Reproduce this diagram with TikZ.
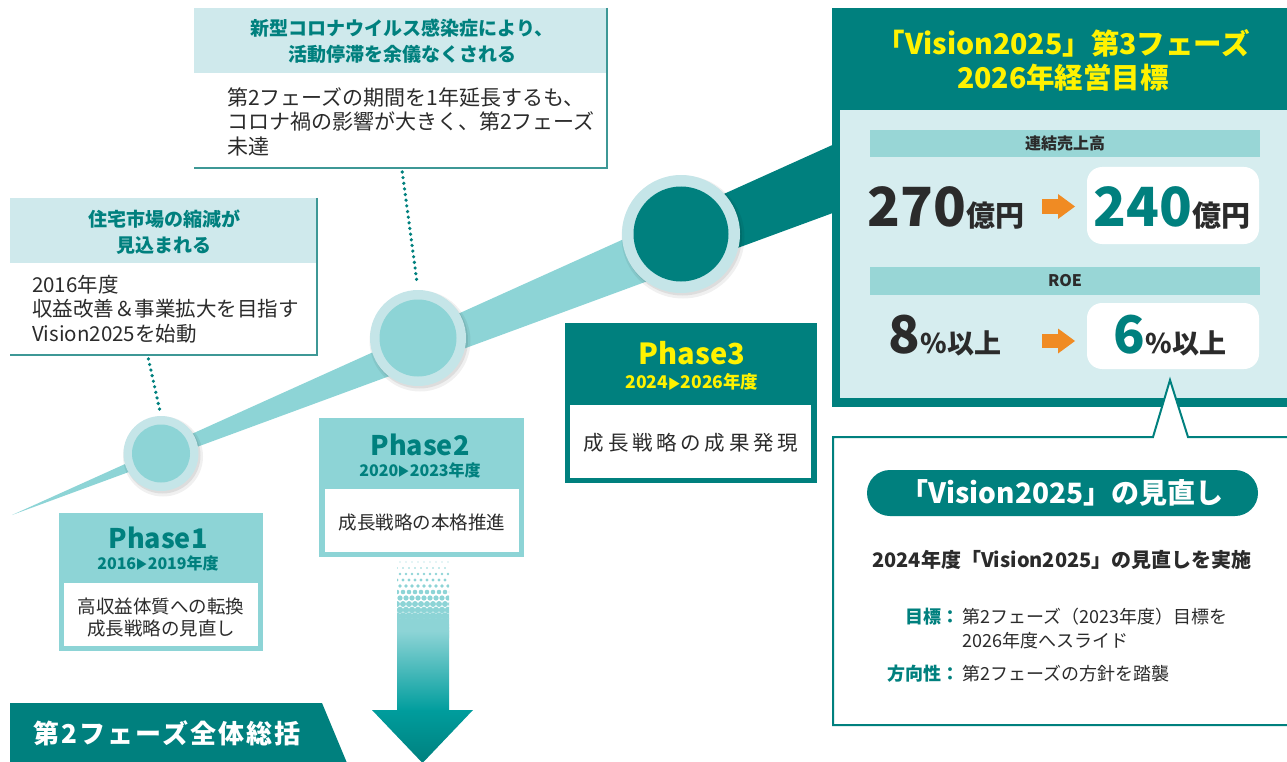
\documentclass[tikz,border=0pt]{standalone}
\usepackage{fontspec}
\usepackage{graphicx}
\setmainfont{Noto Sans CJK JP}
\newfontfamily\dejavu{DejaVu Sans}
\definecolor{teal1}{HTML}{00807E}
\definecolor{lteal}{HTML}{8DD4D6}
\definecolor{pale}{HTML}{CFE9EC}
\definecolor{ringc}{HTML}{C5E5E8}
\definecolor{panel}{HTML}{D6EDEF}
\definecolor{barc}{HTML}{98D6D6}
\definecolor{txt}{HTML}{2B2B2B}
\definecolor{yel}{HTML}{FFF200}
\definecolor{org}{HTML}{F08B23}
\definecolor{edgec}{HTML}{3E9896}
\definecolor{arrowc}{HTML}{009D9D}
\newcommand\tri{\hspace{0.06em}\raisebox{0.02em}{\dejavu\scalebox{0.78}[0.95]{▶}}\hspace{0.06em}}
\newcommand\fs[2]{\fontsize{#1}{#2}\selectfont}
\tikzset{
  hdr/.style={font={\bfseries\fs{19}{26}}, text=teal1, align=center, inner sep=0},
  body/.style={font={\fs{21}{24.5}}, text=txt, align=left, inner sep=0, anchor=west},
  ptitle/.style={font={\bfseries\fs{27}{27}}, text=teal1, inner sep=0},
  pdate/.style={font={\bfseries\fs{16}{16}}, text=teal1, inner sep=0},
  pbody/.style={font={\fs{18.5}{22}}, text=txt, align=center, inner sep=0},
  ringnode/.style={circle, fill=ringc, inner sep=0},
  corenode/.style={circle, inner sep=0},
  dotline/.style={teal1, line width=3.6pt, line cap=round, dash pattern=on 0pt off 5.7pt},
  bartext/.style={font={\bfseries\fs{16}{16}}, text=txt, inner sep=0},
  bigval/.style={inner sep=0, anchor=base},
  oarrow/.style={fill=org},
  smalltxt/.style={font={\fs{18}{18}}, text=txt, inner sep=0},
  smallkey/.style={font={\bfseries\fs{18}{18}}, text=teal1, inner sep=0, anchor=base east},
}
\begin{document}
\begin{tikzpicture}[x=1pt,y=-1pt]
\useasboundingbox (0,0) rectangle (1287,762);
% ---- band ----
\fill[lteal] (12,515) -- (681,213.3) -- (681,268.8) -- cycle;
\fill[teal1] (681,213.3) -- (845,139.3) -- (845,208.5) -- (681,268.8) -- cycle;
% ---- circles ----
\foreach \cx/\cy/\R in {161/453.5/37.5, 418/338/48, 681/234/59}{
  \fill[black, opacity=0.06] (\cx+2,\cy+3) circle ({\R+2.5pt});
  \fill[black, opacity=0.08] (\cx+1.5,\cy+2) circle ({\R+0.5pt});
}
\node[ringnode, minimum size=75pt] (c1) at (161,453.5) {};
\node[corenode, fill=lteal, minimum size=58pt] (c1i) at (c1) {};
\node[ringnode, minimum size=96pt] (c2) at (418,338) {};
\node[corenode, fill=lteal, minimum size=77pt] (c2i) at (c2) {};
\node[ringnode, minimum size=118pt] (c3) at (681,234) {};
\node[corenode, fill=teal1, minimum size=95pt] (c3i) at (c3) {};
% ---- callout A ----
\fill[white] (194,8) rectangle (607,168);
\fill[pale] (194,8) rectangle (607,73);
\draw[edgec, line width=2.5pt] (607,8) -- (607,168) -- (194,168);
\node[hdr] (aH) at (402,41) {新型コロナウイルス感染症により、\\活動停滞を余儀なくされる};
\node[body] (aB) at (227,121.5) {第2フェーズの期間を1年延長するも、\\コロナ禍の影響が大きく、第2フェーズ\\未達};
\coordinate (aBot) at (402,170);
% ---- callout B ----
\fill[white] (10,198) rectangle (317,355);
\fill[pale] (10,198) rectangle (317,263);
\draw[edgec, line width=2.5pt] (317,198) -- (317,355) -- (10,355);
\node[hdr] (bH) at (164,232.5) {住宅市場の縮減が\\見込まれる};
\node[body, font={\fs{20.5}{24.5}}] (bB) at (32,309) {2016年度\\収益改善＆事業拡大を目指す\\Vision2025を始動};
\coordinate (bBot) at (148,357);
% ---- dotted connectors ----
\draw[dotline, shorten <=2pt, shorten >=6pt] (aBot) -- (c2.north);
\draw[dotline, shorten <=2pt, shorten >=4pt] (bBot) -- (c1.north);
% ---- Phase1 ----
\fill[lteal] (59,513) rectangle (263,651);
\fill[white] (64,583) rectangle (258,646);
\node[ptitle] (p1t) at (158,538) {Phase1};
\node[pdate] (p1d) at (158,563) {2016\tri 2019年度};
\node[pbody] (p1b) at (161,617.5) {高収益体質への転換\\成長戦略の見直し};
% ---- Phase2 ----
\fill[lteal] (319,418) rectangle (524,557);
\fill[white] (325,489) rectangle (519,552);
\node[ptitle] (p2t) at (420,445) {Phase2};
\node[pdate] (p2d) at (420,470) {2020\tri 2023年度};
\node[pbody] (p2b) at (422,522) {成長戦略の本格推進};
% ---- Phase3 ----
\fill[teal1] (565,323) rectangle (817,483);
\fill[white] (570,405) rectangle (811,478);
\node[ptitle, text=yel, font={\bfseries\fs{29}{29}}] (p3t) at (692,353) {Phase3};
\node[pdate, text=yel, font={\bfseries\fs{17.5}{17.5}}] (p3d) at (692,382) {2024\tri 2026年度};
\node[pbody, font={\fs{20.5}{22}\addfontfeature{LetterSpace=18}}] (p3b) at (691,443) {成長戦略の成果発現};
% ---- down arrow ----
\begin{scope}
  \clip (397,559) rectangle (449,640);
  \foreach \k in {0,...,12}{
    \pgfmathsetmacro\rr{0.6+0.34*\k}
    \pgfmathsetmacro\yy{562+6*\k}
    \pgfmathsetmacro\off{mod(\k,2)*3}
    \foreach \i in {0,...,9}{
      \fill[lteal] ({394+\off+6*\i},\yy) circle (\rr pt);
    }
  }
\end{scope}
\shade[top color=lteal, bottom color=arrowc] (397,631) rectangle (449,711);
\node[inner sep=0] (arrowtop) at (423,560) {};
\shade[top color=arrowc, bottom color=teal1] (372,710) -- (473,710) -- (422.5,763) -- cycle;
% ---- banner ----
\fill[teal1] (10,703) -- (322,703) -- (347,763) -- (10,763) -- cycle;
\node[inner sep=0, text=white, font={\bfseries\fs{26}{26}\addfontfeature{LetterSpace=8}}] (ban) at (167,733) {第2フェーズ全体総括};
% ---- right target box ----
\fill[teal1] (832,8) rectangle (1295,407);
\fill[panel] (840,110) rectangle (1295,398);
\node[inner sep=0, text=yel, align=center, font={\bfseries\fs{28.5}{34}}] (rh) at (1063,60) {「Vision2025」第3フェーズ\\2026年経営目標};
\fill[barc] (870,130) rectangle (1260,157);
\node[bartext] (bar1) at (1065,143.5) {連結売上高};
\fill[white, rounded corners=15pt] (1087,167) rectangle (1259,244);
\node[bigval, text=txt] (v270) at (946,226) {\bfseries\fs{54}{54}270\fs{29}{29}億円};
\node[bigval, text=teal1] (v240) at (1172,226) {\bfseries\fs{54}{54}240\fs{29}{29}\color{txt}億円};
\fill[oarrow] (1042,199.5) rectangle (1059,213.5);
\fill[oarrow] (1058,194) -- (1075,206.5) -- (1058,219) -- cycle;
\fill[barc] (870,267) rectangle (1260,295);
\node[bartext] (bar2) at (1065,281) {ROE};
\fill[white, rounded corners=15pt] (1087,303) rectangle (1259,369);
\node[bigval, text=txt] (v8) at (945,353) {\bfseries\fs{52}{52}8\fs{27}{27}\%以上};
\node[bigval, text=teal1] (v6) at (1170,353) {\bfseries\fs{52}{52}6\fs{27}{27}\color{txt}\%以上};
\fill[oarrow] (1042,334) rectangle (1059,348);
\fill[oarrow] (1058,328.5) -- (1075,341) -- (1058,353.5) -- cycle;
% ---- review box ----
\filldraw[fill=white, draw=teal1, line width=2pt] (1295,437) -- (1188,437) -- (1170,380) -- (1153,437) -- (833,437) -- (833,725) -- (1295,725);
\fill[teal1, rounded corners=23pt] (867,470) rectangle (1258,516);
\node[inner sep=0, text=white, font={\bfseries\fs{28}{28}}] (pill) at (1062,493) {「Vision2025」の見直し};
\node[inner sep=0, text=txt, font={\bfseries\fs{20}{20}}] (rv) at (1062,560) {2024年度「Vision2025」の見直しを実施};
\node[smallkey] (k1) at (960,623) {目標：};
\node[smalltxt, anchor=base west] (t1) at (962,623) {第2フェーズ（2023年度）目標を};
\node[smalltxt, anchor=base west] (t1b) at (962,647) {2026年度へスライド};
\node[smallkey] (k2) at (960,680) {方向性：};
\node[smalltxt, anchor=base west] (t2) at (962,680) {第2フェーズの方針を踏襲};
\end{tikzpicture}
\end{document}
